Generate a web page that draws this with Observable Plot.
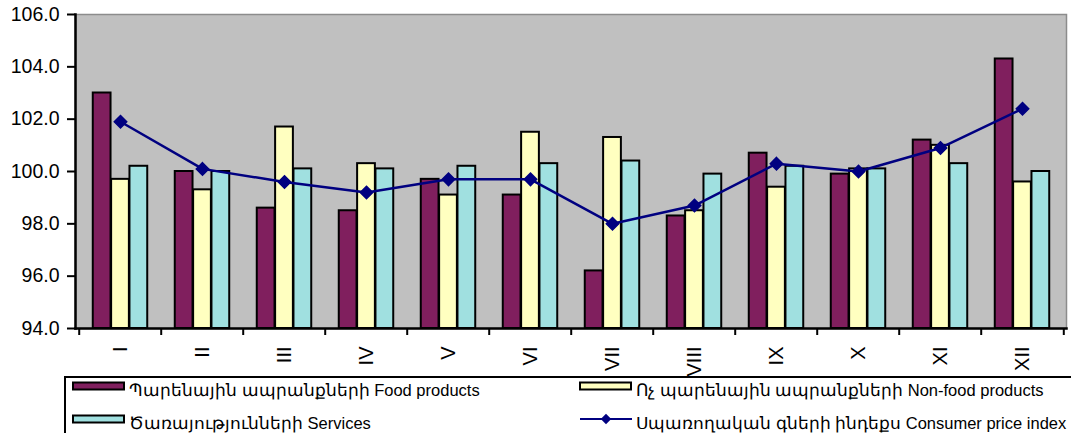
<!DOCTYPE html>
<html>
<head>
<meta charset="utf-8">
<script src="https://cdn.jsdelivr.net/npm/d3@7"></script>
<script src="https://cdn.jsdelivr.net/npm/@observablehq/plot@0.6"></script>
<style>
  body { margin: 0; background: #fff; font-family: "Liberation Sans", Arial, sans-serif; }
  #wrap { position: relative; width: 1071px; height: 433px; overflow: hidden; }
  #legend { position: absolute; left: 0; top: 370px; }
</style>
</head>
<body>
<div id="wrap"><div id="chart"></div><div id="legend"></div></div>
<script>
const months = ["I", "II", "III", "IV", "V", "VI", "VII", "VIII", "IX", "X", "XI", "XII"];
const food    = [103.0, 100.0, 98.6, 98.5, 99.7, 99.1, 96.2, 98.3, 100.7, 99.9, 101.2, 104.3];
const nonfood = [99.7, 99.3, 101.7, 100.3, 99.1, 101.5, 101.3, 98.5, 99.4, 100.1, 101.0, 99.6];
const services= [100.2, 100.0, 100.1, 100.1, 100.2, 100.3, 100.4, 99.9, 100.2, 100.1, 100.3, 100.0];
const cpi     = [101.9, 100.1, 99.6, 99.2, 99.7, 99.7, 98.0, 98.7, 100.3, 100.0, 100.9, 102.4];
const yTicks  = [94, 96, 98, 100, 102, 104, 106];
const seriesNames = [
  "Պարենային ապրանքների Food products",
  "Ոչ պարենային ապրանքների Non-food products",
  "Ծառայությունների Services",
  "Սպառողական գների ինդեքս Consumer price index"
];
const colors = ["#801F5E", "#FFFFC0", "#A0E0E0", "#000080"];

const W = 1071, H = 380;
const mL = 75, mR = 5, mT = 14, mB = 52;
const plotH = H - mT - mB;
const bw = (W - mL - mR) / months.length;
const w = bw / 4.5;
const yMin = yTicks[0];

const rows = months.map((m, i) => ({m, food: food[i], nonfood: nonfood[i], services: services[i], cpi: cpi[i]}));

const bars = (key, k, fill) => Plot.barY(rows, {
  x: "m", y1: yMin, y2: key, fill, stroke: "black", strokeWidth: 2,
  insetLeft: bw / 2 + (k - 1.5) * w,
  insetRight: bw / 2 - (k - 0.5) * w
});

const chart = Plot.plot({
  width: W, height: H,
  marginLeft: mL, marginRight: mR, marginTop: mT, marginBottom: mB,
  style: {fontFamily: "'Liberation Sans', Arial, sans-serif", fontSize: "19px", color: "black", background: "transparent", overflow: "visible"},
  x: {type: "band", domain: months, padding: 0, axis: null},
  y: {domain: [yMin, yTicks[yTicks.length - 1]], axis: null},
  marks: [
    Plot.frame({fill: "#C0C0C0", stroke: "#8c8c8c", strokeWidth: 1.5}),
    bars("food", 0, colors[0]),
    bars("nonfood", 1, colors[1]),
    bars("services", 2, colors[2]),
    Plot.line(rows, {x: "m", y: "cpi", stroke: colors[3], strokeWidth: 2.5}),
    Plot.dot(rows, {x: "m", y: "cpi", symbol: "diamond2", r: 5.6, fill: colors[3], stroke: colors[3]}),
    Plot.frame({anchor: "left", stroke: "black", strokeWidth: 2.5}),
    Plot.frame({anchor: "bottom", stroke: "black", strokeWidth: 2.5}),
    Plot.axisY({ticks: yTicks, tickFormat: d3.format(".1f"), tickSize: 8, tickPadding: 8, fontSize: 19.5, stroke: "black", strokeWidth: 2}),
    Plot.ruleX(months, {x: d => d, dx: -bw / 2, insetTop: plotH - 7, dy: 7, stroke: "black", strokeWidth: 2}),
    Plot.ruleX(months.slice(-1), {x: d => d, dx: bw / 2, insetTop: plotH - 7, dy: 7, stroke: "black", strokeWidth: 2}),
    Plot.text(months, {x: d => d, frameAnchor: "bottom", dy: 18, rotate: -90, textAnchor: "end", lineAnchor: "middle", fontSize: 20, fill: "black"})
  ]
});
document.getElementById("chart").appendChild(chart);

// Legend
const lg = d3.select("#legend").append("svg").attr("width", W).attr("height", 63)
  .style("font-family", "'Liberation Sans', Arial, sans-serif").style("font-size", "16.5px");
lg.append("path").attr("d", `M65,${63}V7H${W}`).attr("fill", "none").attr("stroke", "black").attr("stroke-width", 2);
const items = [
  {x: 73, y: 16, type: "rect", c: colors[0], t: seriesNames[0]},
  {x: 580, y: 16, type: "rect", c: colors[1], t: seriesNames[1]},
  {x: 73, y: 49, type: "rect", c: colors[2], t: seriesNames[2]},
  {x: 580, y: 49, type: "line", c: colors[3], t: seriesNames[3]}
];
items.forEach(it => {
  if (it.type === "rect") {
    lg.append("rect").attr("x", it.x).attr("y", it.y - 3.5).attr("width", 51).attr("height", 7)
      .attr("fill", it.c).attr("stroke", "black").attr("stroke-width", 2);
  } else {
    lg.append("line").attr("x1", it.x).attr("x2", it.x + 52).attr("y1", it.y).attr("y2", it.y)
      .attr("stroke", it.c).attr("stroke-width", 2);
    lg.append("path").attr("d", d3.symbol(d3.symbolDiamond2, 70)()).attr("transform", `translate(${it.x + 26},${it.y})`)
      .attr("fill", it.c);
  }
  lg.append("text").attr("x", it.x + 56).attr("y", it.y + 4.5).attr("dy", "0.35em").attr("fill", "black").text(it.t);
});
</script>
</body>
</html>
